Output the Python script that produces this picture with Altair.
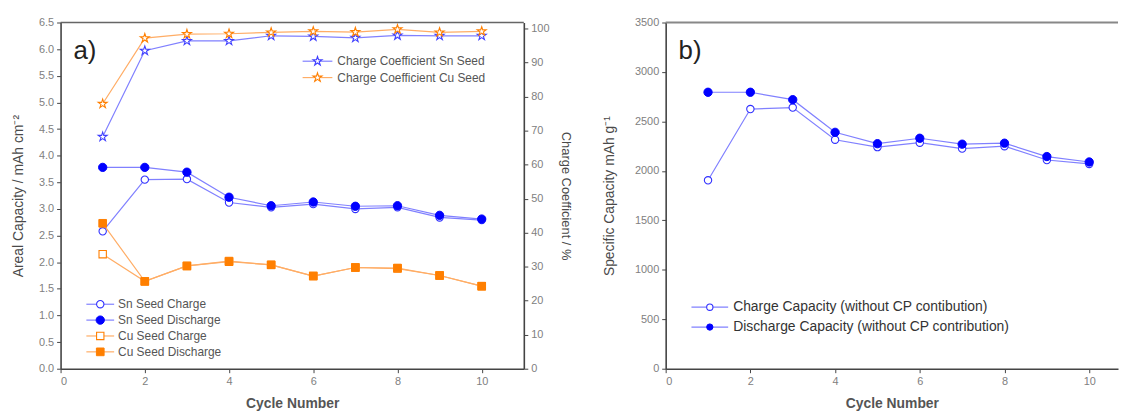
import altair as alt
import pandas as pd

# ---------------- data ----------------
cycles = [1, 2, 3, 4, 5, 6, 7, 8, 9, 10]
sn_charge = [2.58, 3.55, 3.56, 3.12, 3.03, 3.09, 3.00, 3.03, 2.84, 2.79]
sn_discharge = [3.78, 3.78, 3.69, 3.22, 3.06, 3.13, 3.05, 3.06, 2.88, 2.81]
cu_charge = [2.15, 1.64, 1.93, 2.01, 1.95, 1.74, 1.90, 1.88, 1.75, 1.55]
cu_discharge = [2.73, 1.64, 1.93, 2.02, 1.95, 1.74, 1.90, 1.89, 1.75, 1.55]
sn_coeff = [68.2, 93.5, 96.4, 96.4, 97.9, 97.7, 97.3, 98.0, 97.9, 97.9]
cu_coeff = [77.9, 97.2, 98.4, 98.5, 98.9, 99.2, 99.0, 99.8, 98.9, 99.2]
spec_charge = [1905, 2625, 2640, 2315, 2240, 2285, 2225, 2250, 2110, 2070]
spec_discharge = [2795, 2795, 2720, 2390, 2275, 2330, 2270, 2280, 2145, 2090]

cap_names = ["Sn Seed Charge", "Sn Seed Discharge", "Cu Seed Charge", "Cu Seed Discharge"]
coef_names = ["Charge Coefficient Sn Seed", "Charge Coefficient Cu Seed"]
spec_names = ["Charge Capacity (without CP contibution)",
              "Discharge Capacity (without CP contribution)"]

left_ticks = [0.0, 0.5, 1.0, 1.5, 2.0, 2.5, 3.0, 3.5, 4.0, 4.5, 5.0, 5.5, 6.0, 6.5]
right_ticks = [0, 10, 20, 30, 40, 50, 60, 70, 80, 90, 100]
x_ticks = [0, 2, 4, 6, 8, 10]
spec_ticks = [0, 500, 1000, 1500, 2000, 2500, 3000, 3500]

# ---------------- styles ----------------
FONT = "Liberation Sans"
BLUE = "#0000ff"
BLUE_LINE = "#8080ff"
ORANGE = "#ff7f00"
ORANGE_LINE = "#ffad66"
STAR = ("M0,-1L0.2245,-0.309L0.951,-0.309L0.363,0.118L0.588,0.809L0,0.382"
        "L-0.588,0.809L-0.363,0.118L-0.951,-0.309L-0.2245,-0.309Z")

WA, HA = 467, 349
WB, HB = 456, 349

STYLES = {
    "sn_open": ("circle", False, "#3030ff", BLUE_LINE, 55),
    "sn_fill": ("circle", True, BLUE, BLUE_LINE, 70),
    "cu_open": ("square", False, ORANGE, ORANGE_LINE, 55),
    "cu_fill": ("square", True, ORANGE, ORANGE_LINE, 60),
    "sn_star": (STAR, False, "#4040ff", BLUE_LINE, 90),
    "cu_star": (STAR, False, ORANGE, ORANGE_LINE, 90),
}

def marker(kind, size=None):
    shape, filled, col, _, sz = STYLES[kind]
    sz = size or sz
    if filled:
        return alt.MarkDef(type="point", shape=shape, filled=True, fill=col, stroke=col,
                           strokeWidth=1, size=sz, opacity=1)
    return alt.MarkDef(type="point", shape=shape, filled=True, fill="white", stroke=col,
                       strokeWidth=1.1, size=sz, opacity=1)

def series(values, kind, X, Y):
    df = pd.DataFrame({"cycle": cycles, "v": values})
    line = alt.Chart(df).mark_line(color=STYLES[kind][3], strokeWidth=1.2).encode(x=X, y=Y)
    pts = alt.Chart(df, mark=marker(kind)).encode(x=X, y=Y)
    return [line, pts]

def legend(names, kinds, x0, y0, dy, length, gap, fsize, tcolor, msize=None):
    layers = []
    for i, (nm, kd) in enumerate(zip(names, kinds)):
        y = y0 + i * dy
        d = alt.Data(values=[{"label": nm}])
        layers.append(alt.Chart(d).mark_rule(color=STYLES[kd][3], strokeWidth=1.2).encode(
            x=alt.value(x0), x2=alt.value(x0 + length), y=alt.value(y)))
        layers.append(alt.Chart(d, mark=marker(kd, msize)).encode(
            x=alt.value(x0 + length / 2), y=alt.value(y)))
        layers.append(alt.Chart(d).mark_text(align="left", baseline="middle", font=FONT,
                                             fontSize=fsize, color=tcolor).encode(
            x=alt.value(x0 + length + gap), y=alt.value(y), text="label:N"))
    return layers

def top_border(w, color, sw):
    d = alt.Data(values=[{"a": 1}])
    return alt.Chart(d).mark_rule(color=color, strokeWidth=sw).encode(
        x=alt.value(0), x2=alt.value(w), y=alt.value(0))

def panel_label(txt):
    d = alt.Data(values=[{"t": txt}])
    return alt.Chart(d).mark_text(align="left", baseline="middle", font=FONT,
                                  fontSize=26, color="#222").encode(
        x=alt.value(13), y=alt.value(29), text="t:N")

def axis(**kw):
    base = dict(labelFont=FONT, titleFont=FONT, labelColor="#808080", titleColor="#4a4a4a",
                labelFontSize=11, titleFontSize=14, titleFontWeight="normal",
                domainColor="#444", domainWidth=1.6, tickColor="#444", tickSize=4,
                grid=False, labelPadding=3)
    base.update(kw)
    return alt.Axis(**base)

def xaxis():
    return axis(values=x_ticks, title="Cycle Number", titleFontWeight="bold",
                titleFontSize=14, titleColor="#555", titlePadding=10)

XA = alt.X("cycle:Q", scale=alt.Scale(domain=[0, 11], nice=False), axis=xaxis())
YL = alt.Y("v:Q", scale=alt.Scale(domain=[0, 6.5], nice=False),
           axis=axis(values=left_ticks, format=".1f",
                     title="Areal Capacity / mAh cm⁻²", titlePadding=13))
YR = alt.Y("v:Q", scale=alt.Scale(domain=[0, 101.8], nice=False),
           axis=axis(values=right_ticks, orient="right", titleFontSize=13,
                     title="Charge Coefficient / %", titlePadding=10))

cap_layers = []
for vals, kd in zip([sn_charge, sn_discharge, cu_charge, cu_discharge],
                    ["sn_open", "sn_fill", "cu_open", "cu_fill"]):
    cap_layers += series(vals, kd, XA, YL)
coef_layers = []
for vals, kd in zip([sn_coeff, cu_coeff], ["sn_star", "cu_star"]):
    coef_layers += series(vals, kd, XA, YR)

decor_a = ([top_border(WA, "#666", 1.6), panel_label("a)")]
           + legend(coef_names, ["sn_star", "cu_star"], 244, 39, 16.5, 30, 5, 12, "#555")
           + legend(cap_names, ["sn_open", "sn_fill", "cu_open", "cu_fill"],
                    26, 284, 16, 28, 4, 12, "#555"))

panel_a = alt.layer(alt.layer(*cap_layers), alt.layer(*coef_layers), *decor_a).resolve_scale(
    y="independent").properties(width=WA, height=HA)

XB = alt.X("cycle:Q", scale=alt.Scale(domain=[0, 10.68], nice=False), axis=xaxis())
YB = alt.Y("v:Q", scale=alt.Scale(domain=[0, 3500], nice=False),
           axis=axis(values=spec_ticks, format="d", title="Specific Capacity mAh g⁻¹",
                     titlePadding=18))

spec_layers = series(spec_charge, "sn_open", XB, YB) + series(spec_discharge, "sn_fill", XB, YB)
decor_b = ([top_border(WB, "#888", 2), panel_label("b)")]
           + legend(spec_names, ["sn_open", "sn_fill"], 26, 287, 20, 37, 5, 14, "#333", 40))

panel_b = alt.layer(*spec_layers, *decor_b).properties(width=WB, height=HB)

chart = alt.hconcat(panel_a, panel_b, spacing=30).properties(
    padding={"left": 3, "top": 7, "right": 0, "bottom": 0},
    background="white",
).configure_view(stroke=None)

chart.save("out.html", embed_options={"renderer": "svg", "actions": False})
